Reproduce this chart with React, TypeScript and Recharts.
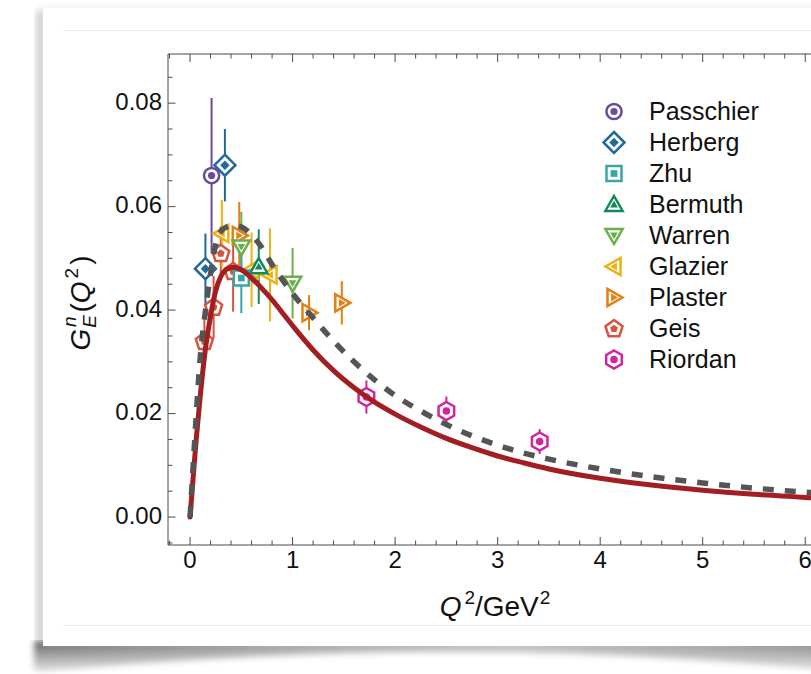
import React from "react";
import { ComposedChart, Line, Scatter, XAxis, YAxis, ErrorBar, Legend } from "recharts";

const FONT = '"Liberation Sans", Arial, Helvetica, sans-serif';
const AXIS = "#4a4a4a";

// Q² samples (GeV²) for the two model curves
const curveQ2 = [0, 0.03, 0.06, 0.1, 0.15, 0.2, 0.25, 0.3, 0.35, 0.42, 0.5, 0.6, 0.7, 0.8, 0.9, 1.0, 1.2, 1.4, 1.6, 1.8, 2.0, 2.25, 2.5, 2.75, 3.0, 3.25, 3.5, 4.0, 4.5, 5.0, 5.5, 6.0, 6.3];
const solidGE = [0, 0.0075, 0.015, 0.0235, 0.0325, 0.0388, 0.0437, 0.0465, 0.0478, 0.0483, 0.0478, 0.0462, 0.0442, 0.042, 0.0395, 0.037, 0.0323, 0.0283, 0.025, 0.0222, 0.0199, 0.0174, 0.0152, 0.0134, 0.0118, 0.0105, 0.0093, 0.0075, 0.0062, 0.0052, 0.0044, 0.0038, 0.0035];
const dashedGE = [0, 0.0098, 0.0195, 0.031, 0.0398, 0.047, 0.0527, 0.0552, 0.056, 0.0564, 0.0561, 0.0545, 0.0521, 0.0488, 0.0459, 0.0432, 0.0385, 0.034, 0.03, 0.0265, 0.0235, 0.0205, 0.0179, 0.0157, 0.0139, 0.0124, 0.0112, 0.0093, 0.0078, 0.0066, 0.0056, 0.0048, 0.0044];

// measurements: Q², G_E^n, uncertainty
const passchierQ2 = [0.21];
const passchierGE = [0.066];
const passchierErr = [0.015];

const herbergQ2 = [0.15, 0.34];
const herbergGE = [0.048, 0.068];
const herbergErr = [0.0068, 0.007];

const zhuQ2 = [0.5];
const zhuGE = [0.0462];
const zhuErr = [0.0068];

const bermuthQ2 = [0.67];
const bermuthGE = [0.0484];
const bermuthErr = [0.0072];

const warrenQ2 = [0.5, 1.0];
const warrenGE = [0.0522, 0.0452];
const warrenErr = [0.0068, 0.0068];

const glazierQ2 = [0.31, 0.6, 0.78];
const glazierGE = [0.0548, 0.0478, 0.0468];
const glazierErr = [0.0065, 0.0072, 0.009];

const plasterQ2 = [0.48, 1.16, 1.48];
const plasterGE = [0.0544, 0.0395, 0.0414];
const plasterErr = [0.0065, 0.0034, 0.0042];

const geisQ2 = [0.14, 0.23, 0.3, 0.42];
const geisGE = [0.034, 0.0406, 0.051, 0.0475];
const geisErr = [0.005, 0.006, 0.0052, 0.0078];

const riordanQ2 = [1.72, 2.5, 3.41];
const riordanGE = [0.0232, 0.0205, 0.0146];
const riordanErr = [0.0032, 0.0028, 0.0024];

// axis ticks
const xMajor = [0, 1, 2, 3, 4, 5, 6];
const xMinor = [-0.2, 0.2, 0.4, 0.6, 0.8, 1.2, 1.4, 1.6, 1.8, 2.2, 2.4, 2.6, 2.8, 3.2, 3.4, 3.6, 3.8, 4.2, 4.4, 4.6, 4.8, 5.2, 5.4, 5.6, 5.8, 6.2];
const yMajor = [0, 0.02, 0.04, 0.06, 0.08];
const yMinor = [-0.005, 0.005, 0.01, 0.015, 0.025, 0.03, 0.035, 0.045, 0.05, 0.055, 0.065, 0.07, 0.075, 0.085];

type Kind = "circle" | "diamond" | "square" | "up" | "down" | "left" | "right" | "pentagon" | "hexagon";

const zip = (q: number[], g: number[], e?: number[]) =>
  q.map((v, i) => ({ q2: v, ge: g[i], err: e ? e[i] : 0 }));

const series: { name: string; color: string; kind: Kind; data: { q2: number; ge: number; err: number }[] }[] = [
  { name: "Passchier", color: "#6a4a9c", kind: "circle", data: zip(passchierQ2, passchierGE, passchierErr) },
  { name: "Herberg", color: "#21699a", kind: "diamond", data: zip(herbergQ2, herbergGE, herbergErr) },
  { name: "Zhu", color: "#38a6a5", kind: "square", data: zip(zhuQ2, zhuGE, zhuErr) },
  { name: "Bermuth", color: "#138a5c", kind: "up", data: zip(bermuthQ2, bermuthGE, bermuthErr) },
  { name: "Warren", color: "#6cae4a", kind: "down", data: zip(warrenQ2, warrenGE, warrenErr) },
  { name: "Glazier", color: "#efb011", kind: "left", data: zip(glazierQ2, glazierGE, glazierErr) },
  { name: "Plaster", color: "#e57f12", kind: "right", data: zip(plasterQ2, plasterGE, plasterErr) },
  { name: "Geis", color: "#d8543f", kind: "pentagon", data: zip(geisQ2, geisGE, geisErr) },
  { name: "Riordan", color: "#d3249b", kind: "hexagon", data: zip(riordanQ2, riordanGE, riordanErr) },
];

const solidCurve = zip(curveQ2, solidGE);
const dashedCurve = zip(curveQ2, dashedGE);

// polygon vertices around (cx, cy), first vertex at angle a0 (degrees)
function ngon(cx: number, cy: number, r: number, n: number, a0: number) {
  const pts: string[] = [];
  for (let k = 0; k < n; k++) {
    const a = ((a0 + (360 / n) * k) * Math.PI) / 180;
    pts.push(`${(cx + r * Math.cos(a)).toFixed(2)},${(cy + r * Math.sin(a)).toFixed(2)}`);
  }
  return pts.join(" ");
}

function shapePoints(kind: Kind, cx: number, cy: number, s: number) {
  switch (kind) {
    case "diamond":
      return ngon(cx, cy, 10.5 * s, 4, -90);
    case "square":
      return ngon(cx, cy, 10.6 * s, 4, -45);
    case "up":
      return ngon(cx, cy + 1.5 * s, 10 * s, 3, -90);
    case "down":
      return ngon(cx, cy - 1.5 * s, 10 * s, 3, 90);
    case "left":
      return ngon(cx + 1.5 * s, cy, 10 * s, 3, 180);
    case "right":
      return ngon(cx - 1.5 * s, cy, 10 * s, 3, 0);
    case "pentagon":
      return ngon(cx, cy + 0.5 * s, 9 * s, 5, -90);
    default:
      return ngon(cx, cy, 9 * s, 6, -90);
  }
}

const Marker = ({ kind, cx, cy, color }: { kind: Kind; cx: number; cy: number; color: string }) => {
  if (kind === "circle") {
    return (
      <g>
        <circle cx={cx} cy={cy} r={7.6} fill="#fff" stroke={color} strokeWidth={2.5} />
        <circle cx={cx} cy={cy} r={3.6} fill={color} />
      </g>
    );
  }
  const inner =
    kind === "hexagon" ? (
      <circle cx={cx} cy={cy} r={3.8} fill={color} />
    ) : (
      <polygon points={shapePoints(kind, cx, cy, 0.45)} fill={color} />
    );
  return (
    <g>
      <polygon points={shapePoints(kind, cx, cy, 1)} fill="#fff" stroke={color} strokeWidth={2.5} strokeLinejoin="miter" />
      {inner}
    </g>
  );
};

const XTick = (props: any) => {
  const { x, y, payload, orientation } = props;
  const major = xMajor.includes(payload.value);
  const len = major ? 8 : 4.5;
  const top = orientation === "top";
  return (
    <g>
      <line x1={x} x2={x} y1={y} y2={top ? y + len : y - len} stroke={AXIS} strokeWidth={1} />
      {!top && major && (
        <text x={x} y={y + 23} textAnchor="middle" fontFamily={FONT} fontSize={24} fill="#111">
          {payload.value}
        </text>
      )}
    </g>
  );
};

const YTick = (props: any) => {
  const { x, y, payload } = props;
  const major = yMajor.includes(payload.value);
  const len = major ? 7.5 : 4.5;
  return (
    <g>
      <line x1={x} x2={x + len} y1={y} y2={y} stroke={AXIS} strokeWidth={1} />
      {major && (
        <text x={x - 6} y={y + 6.5} textAnchor="end" fontFamily={FONT} fontSize={24} fill="#111">
          {payload.value.toFixed(2)}
        </text>
      )}
    </g>
  );
};

const XTitle = () => (
  <text x={495} y={616} textAnchor="middle" fontFamily={FONT} fontSize={28} fill="#111">
    <tspan fontStyle="italic">Q</tspan>
    <tspan fontSize={19} dx={3} dy={-12}>2</tspan>
    <tspan dy={12}>/GeV</tspan>
    <tspan fontSize={19} dx={1} dy={-12}>2</tspan>
  </text>
);

const YTitle = () => (
  <text transform="translate(90,303) rotate(-90)" textAnchor="middle" fontFamily={FONT} fontSize={28} fill="#111">
    <tspan fontStyle="italic">G</tspan>
    <tspan fontStyle="italic" fontSize={19} dx={1} dy={6}>E</tspan>
    <tspan fontStyle="italic" fontSize={19} dx={-12} dy={-20}>n</tspan>
    <tspan dx={4} dy={14}>(</tspan>
    <tspan fontStyle="italic">Q</tspan>
    <tspan fontSize={19} dx={3} dy={-12}>2</tspan>
    <tspan dx={3} dy={12}>)</tspan>
  </text>
);

const LegendBox = () => (
  <div style={{ fontFamily: FONT, fontSize: 25, color: "#111" }}>
    {series.map((s) => (
      <div key={s.name} style={{ display: "flex", alignItems: "center", height: 31 }}>
        <svg width={28} height={31} style={{ display: "block" }}>
          <Marker kind={s.kind} cx={14} cy={15.5} color={s.color} />
        </svg>
        <span style={{ marginLeft: 21, lineHeight: "31px", whiteSpace: "nowrap" }}>{s.name}</span>
      </div>
    ))}
  </div>
);

// later experiments sit underneath the earlier ones
const drawOrder = [...series].reverse();

export default function App() {
  return (
    <div style={{ position: "absolute", left: 0, top: 0, width: 811, height: 674, overflow: "hidden", background: "#fff" }}>
      {/* paper card with curled shadow */}
      <svg width={811} height={674} style={{ position: "absolute", left: 0, top: 0 }}>
        <defs>
          <filter id="soft" x="-20%" y="-50%" width="140%" height="200%">
            <feGaussianBlur stdDeviation="3" />
          </filter>
          <linearGradient id="curl" x1="0" y1="0" x2="1" y2="0">
            <stop offset="0" stopColor="#000" stopOpacity="0.62" />
            <stop offset="0.35" stopColor="#000" stopOpacity="0.4" />
            <stop offset="0.6" stopColor="#000" stopOpacity="0.3" />
            <stop offset="1" stopColor="#000" stopOpacity="0.5" />
          </linearGradient>
          <linearGradient id="fade" x1="0" y1="0" x2="0" y2="1">
            <stop offset="0" stopColor="#fff" stopOpacity="1" />
            <stop offset="1" stopColor="#fff" stopOpacity="0.1" />
          </linearGradient>
          <mask id="fadeMask">
            <rect x={0} y={640} width={811} height={34} fill="url(#fade)" />
          </mask>
        </defs>
        <g mask="url(#fadeMask)">
          <path d="M 34 642 L 830 642 L 830 672 Q 450 632 34 674 Z" fill="url(#curl)" filter="url(#soft)" />
        </g>
        <rect x={36} y={10} width={9} height={636} fill="#000" opacity={0.18} filter="url(#soft)" />
        <rect x={43} y={4} width={790} height={6} fill="#000" opacity={0.04} filter="url(#soft)" />
        <rect x={43} y={8} width={800} height={638} fill="#fff" />
        <line x1={63} x2={811} y1={30.5} y2={30.5} stroke="#ebebeb" />
        <line x1={63} x2={811} y1={625.5} y2={625.5} stroke="#ebebeb" />
      </svg>

      <div style={{ position: "absolute", left: 0, top: 0 }}>
        <ComposedChart width={850} height={674} margin={{ top: 53, right: 14, bottom: 128, left: 167 }}>
          <XAxis
            dataKey="q2"
            type="number"
            domain={[-0.215, 6.3]}
            ticks={[...xMajor, ...xMinor]}
            interval={0}
            height={1}
            tickSize={0}
            tickMargin={0}
            tickLine={false}
            axisLine={{ stroke: AXIS, strokeWidth: 1 }}
            tick={<XTick />}
            allowDataOverflow
            label={<XTitle />}
          />
          <XAxis
            xAxisId="top"
            orientation="top"
            dataKey="q2"
            type="number"
            domain={[-0.215, 6.3]}
            ticks={[...xMajor, ...xMinor]}
            interval={0}
            height={1}
            tickSize={0}
            tickMargin={0}
            tickLine={false}
            axisLine={{ stroke: AXIS, strokeWidth: 1 }}
            tick={<XTick />}
            allowDataOverflow
          />
          <YAxis
            dataKey="ge"
            type="number"
            domain={[-0.0054, 0.0895]}
            ticks={[...yMajor, ...yMinor]}
            interval={0}
            width={1}
            tickSize={0}
            tickMargin={0}
            tickLine={false}
            axisLine={{ stroke: AXIS, strokeWidth: 1 }}
            tick={<YTick />}
            allowDataOverflow
            label={<YTitle />}
          />
          {drawOrder.map((s) => (
            <Scatter
              key={s.name}
              name={s.name}
              data={s.data}
              isAnimationActive={false}
              shape={(p: any) => <Marker kind={s.kind} cx={p.cx} cy={p.cy} color={s.color} />}
            >
              <ErrorBar dataKey="err" direction="y" width={0} stroke={s.color} strokeWidth={2} />
            </Scatter>
          ))}
          <Line
            data={solidCurve}
            dataKey="ge"
            type="monotone"
            stroke="#a31e23"
            strokeWidth={5}
            strokeLinecap="round"
            dot={false}
            activeDot={false}
            isAnimationActive={false}
            zIndex={700}
          />
          <Line
            data={dashedCurve}
            dataKey="ge"
            type="monotone"
            stroke="#555555"
            strokeWidth={5.5}
            strokeDasharray="11 11"
            dot={false}
            activeDot={false}
            isAnimationActive={false}
            zIndex={710}
          />
          <Legend
            layout="horizontal"
            verticalAlign="middle"
            align="center"
            content={() => <LegendBox />}
            wrapperStyle={{ position: "absolute", left: 600, top: 96, width: 200, height: 280 }}
          />
        </ComposedChart>
      </div>
    </div>
  );
}
